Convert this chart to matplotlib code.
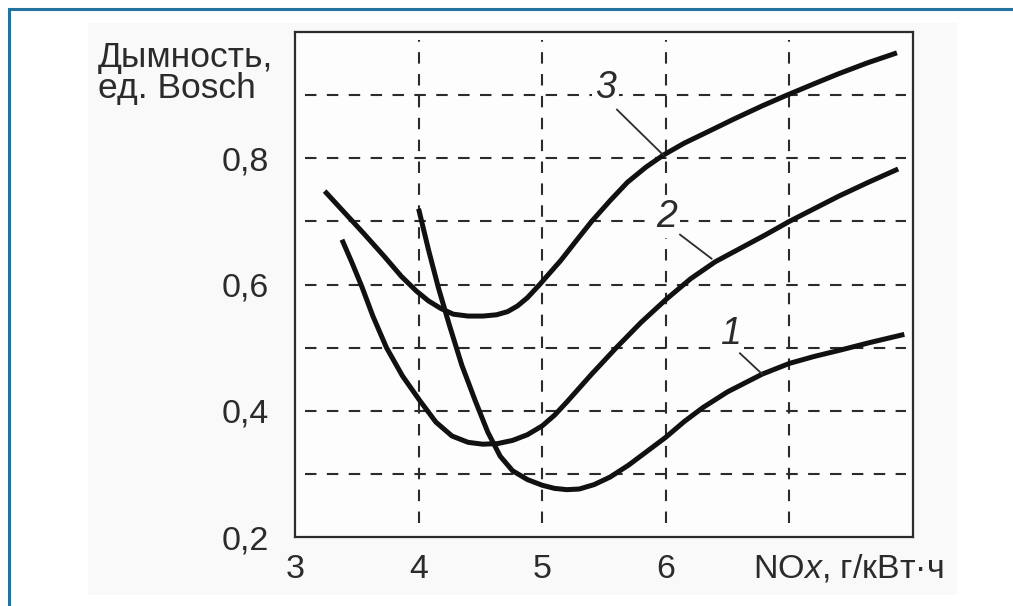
import matplotlib
matplotlib.use('Agg')
import matplotlib.pyplot as plt
from matplotlib.patches import Rectangle
from matplotlib.lines import Line2D

plt.rcParams['font.family'] = ['Liberation Sans', 'DejaVu Sans']
plt.rcParams['mathtext.fontset'] = 'custom'
plt.rcParams['mathtext.rm'] = 'Liberation Sans'
plt.rcParams['mathtext.it'] = 'Liberation Sans:italic'

# кривые дымности по NOx (1, 2, 3)
nox_1 = [4.00, 4.08, 4.16, 4.25, 4.35, 4.46, 4.56, 4.66, 4.76, 4.88, 5.00, 5.10, 5.20,
         5.30, 5.42, 5.55, 5.70, 5.85, 6.00, 6.15, 6.30, 6.50, 6.78, 7.00, 7.20, 7.41,
         7.65, 7.93]
smoke_1 = [0.720, 0.655, 0.595, 0.535, 0.472, 0.415, 0.366, 0.328, 0.305, 0.291, 0.282, 0.277,
           0.275, 0.276, 0.283, 0.295, 0.314, 0.336, 0.358, 0.383, 0.405, 0.430, 0.458, 0.475,
           0.486, 0.496, 0.508, 0.521]

nox_2 = [3.38, 3.46, 3.54, 3.63, 3.74, 3.87, 4.01, 4.14, 4.27, 4.40, 4.52, 4.64, 4.76,
         4.88, 5.00, 5.10, 5.20, 5.40, 5.60, 5.80, 6.00, 6.20, 6.40, 6.60, 6.80, 7.00,
         7.20, 7.40, 7.64, 7.88]
smoke_2 = [0.671, 0.635, 0.597, 0.550, 0.500, 0.455, 0.416, 0.382, 0.360, 0.350, 0.347, 0.348,
           0.353, 0.362, 0.376, 0.393, 0.414, 0.458, 0.500, 0.540, 0.576, 0.609, 0.636, 0.657,
           0.678, 0.700, 0.720, 0.740, 0.762, 0.783]

nox_3 = [3.24, 3.40, 3.56, 3.72, 3.86, 3.98, 4.08, 4.18, 4.28, 4.40, 4.52, 4.63, 4.72,
         4.80, 4.88, 4.98, 5.06, 5.15, 5.27, 5.40, 5.55, 5.69, 5.84, 5.98, 6.15, 6.33,
         6.55, 6.78, 6.98, 7.20, 7.40, 7.63, 7.87]
smoke_3 = [0.748, 0.714, 0.680, 0.645, 0.613, 0.590, 0.574, 0.562, 0.553, 0.550, 0.550, 0.552,
           0.557, 0.566, 0.579, 0.600, 0.618, 0.638, 0.668, 0.700, 0.733, 0.762, 0.786, 0.805,
           0.824, 0.841, 0.862, 0.883, 0.900, 0.918, 0.934, 0.951, 0.967]

x_ticks = [3, 4, 5, 6]
x_grid = [4, 5, 6, 7]
y_ticks = [0.2, 0.4, 0.6, 0.8]
y_grid = [0.3, 0.4, 0.5, 0.6, 0.7, 0.8, 0.9]

# номер кривой, положение цифры, начало выноски, точка на кривой
labels = [('1', (6.52, 0.521), (6.60, 0.491), (6.78, 0.458)),
          ('2', (6.01, 0.707), (6.115, 0.679), (6.37, 0.641)),
          ('3', (5.51, 0.912), (5.605, 0.877), (5.98, 0.805))]

W, H = 1013, 606
ink = '#2b2b2b'

fig = plt.figure(figsize=(W / 100, H / 100), dpi=100)
fig.patch.set_facecolor('white')

# светлая подложка и синяя рамка
fig.add_artist(Rectangle((88 / W, 1 - 595 / H), (957 - 88) / W, (595 - 23) / H,
                         transform=fig.transFigure, facecolor='#f9f9f9', edgecolor='none', zorder=0))
fig.add_artist(Line2D([8.5 / W, 1], [1 - 8.5 / H, 1 - 8.5 / H], transform=fig.transFigure,
                      color='#24739f', lw=2.2))
fig.add_artist(Line2D([8.5 / W, 8.5 / W], [0, 1 - 8.5 / H], transform=fig.transFigure,
                      color='#24739f', lw=2.2))

ax = fig.add_axes([295 / W, 1 - 537 / H, (913 - 295) / W, (537 - 32) / H])
ax.set_facecolor('#fdfdfd')
ax.set_xlim(3, 8)
ax.set_ylim(0.2, 1.0)

for s in ax.spines.values():
    s.set_color(ink)
    s.set_linewidth(1.6)

dash = (0, (5.5, 5.0))
ax.hlines(y_grid, 3.08, 7.94, colors=ink, linewidth=1.5, linestyles=[dash], zorder=1)
ax.vlines(x_grid, 0.222, 0.987, colors=ink, linewidth=1.5, linestyles=[dash], zorder=1)

for xs, ys in [(nox_1, smoke_1), (nox_2, smoke_2), (nox_3, smoke_3)]:
    ax.plot(xs, ys, color='#111111', lw=3.6, solid_joinstyle='round',
            solid_capstyle='butt', zorder=3)

# цифры прерывают штриховую сетку под собой
for name, (tx, ty), (lx, ly), (px, py) in labels:
    ax.text(tx, ty, name, fontsize=27, style='italic', color=ink,
            ha='center', va='center', zorder=4,
            bbox=dict(boxstyle='square,pad=0.08', facecolor='#fdfdfd', edgecolor='none'))
    ax.plot([lx, px], [ly, py], color=ink, lw=1.3, zorder=4)

ax.set_xticks(x_ticks)
ax.set_xticklabels([str(v) for v in x_ticks])
ax.set_yticks(y_ticks)
ax.set_yticklabels([f'{v:.1f}'.replace('.', ',') for v in y_ticks])
ax.tick_params(length=0, labelsize=24.5, labelcolor=ink)
ax.tick_params(axis='x', pad=12)
ax.tick_params(axis='y', pad=19)

fig.text(98 / W, 1 - 67 / H, 'Дымность,', fontsize=25.5, color=ink, va='baseline', ha='left')
fig.text(98 / W, 1 - 98 / H, 'ед. Bosch', fontsize=25.5, color=ink, va='baseline', ha='left')
fig.text(753 / W, 1 - 578 / H, r'NO$\mathit{x}$, г/кВт·ч', fontsize=24.5, color=ink,
         va='baseline', ha='left')

fig.savefig('out.png', dpi=100)
